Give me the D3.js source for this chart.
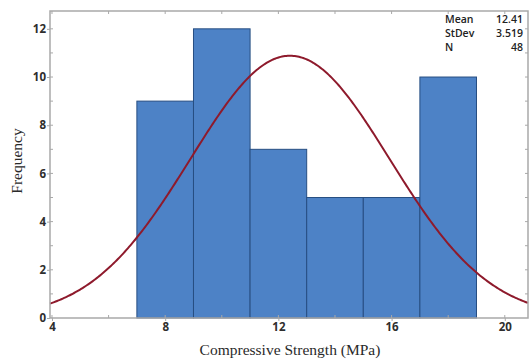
<!DOCTYPE html>
<html>
<head>
<meta charset="utf-8">
<script src="https://cdn.jsdelivr.net/npm/d3@7"></script>
<style>
  html, body { margin: 0; padding: 0; background: #fff; }
  svg { display: block; }
</style>
</head>
<body>
<svg id="chart" width="531" height="361"></svg>
<script>
// Histogram bins (lower edge, upper edge) and their counts
const binStarts = [7, 9, 11, 13, 15, 17];
const binEnds   = [9, 11, 13, 15, 17, 19];
const counts    = [9, 12, 7, 5, 5, 10];

// Fitted normal distribution
const statLabels = ["Mean", "StDev", "N"];
const statValues = ["12.41", "3.519", "48"];
const mean = 12.41, sd = 3.519, n = 48, binWidth = 2;

const xTicks = [4, 8, 12, 16, 20];
const yTicks = [0, 2, 4, 6, 8, 10, 12];

const svg = d3.select("#chart");
const plotLeft = 50, plotRight = 528, plotTop = 11, plotBottom = 318;

const x = d3.scaleLinear().domain([3.93, 20.82]).range([plotLeft, plotRight]);
const y = d3.scaleLinear().domain([0, 12.74]).range([plotBottom, plotTop]);

// Bars
svg.append("g").selectAll("rect")
  .data(counts)
  .join("rect")
  .attr("x", (d, i) => x(binStarts[i]))
  .attr("width", (d, i) => x(binEnds[i]) - x(binStarts[i]))
  .attr("y", d => y(d))
  .attr("height", d => y(0) - y(d))
  .attr("fill", "#4d82c6")
  .attr("stroke", "#274e82")
  .attr("stroke-width", 1);

// Normal curve scaled to counts
const pdf = v => n * binWidth * Math.exp(-0.5 * ((v - mean) / sd) ** 2) / (sd * Math.sqrt(2 * Math.PI));
const curveX = d3.range(3.93, 20.82, 0.05).concat([20.82]);
svg.append("path")
  .datum(curveX)
  .attr("fill", "none")
  .attr("stroke", "#8e1a2c")
  .attr("stroke-width", 2)
  .attr("d", d3.line().x(d => x(d)).y(d => y(pdf(d))));

// Frame
const frameColor = "#a9a9a9";
svg.append("rect")
  .attr("x", plotLeft).attr("y", plotTop)
  .attr("width", plotRight - plotLeft).attr("height", plotBottom - plotTop)
  .attr("fill", "none").attr("stroke", frameColor).attr("stroke-width", 1.5);

// Axes
const xAxis = d3.axisBottom(x).tickValues(xTicks).tickSize(3).tickPadding(2);
const gx = svg.append("g").attr("transform", `translate(0,${plotBottom})`).call(xAxis);
const yAxis = d3.axisLeft(y).tickValues(yTicks).tickSize(3).tickPadding(1);
const gy = svg.append("g").attr("transform", `translate(${plotLeft},0)`).call(yAxis);

[gx, gy].forEach(g => {
  g.select(".domain").remove();
  g.selectAll(".tick line").attr("stroke", frameColor);
  g.selectAll(".tick text")
    .attr("fill", "#2e2e2e")
    .style("font-family", "'Open Sans', sans-serif")
    .style("font-size", "11.5px")
    .style("font-weight", "bold");
});

// Minor ticks inside the frame
const minorX = d3.range(4, 21, 2);
svg.append("g").selectAll("line").data(minorX).join("line")
  .attr("x1", d => x(d)).attr("x2", d => x(d))
  .attr("y1", plotTop).attr("y2", plotTop + 3)
  .attr("stroke", frameColor);
svg.append("g").selectAll("line").data(minorX).join("line")
  .attr("x1", d => x(d)).attr("x2", d => x(d))
  .attr("y1", plotBottom).attr("y2", plotBottom - 3)
  .attr("stroke", frameColor);
const minorY = d3.range(1, 13, 1);
svg.append("g").selectAll("line").data(minorY).join("line")
  .attr("x1", plotLeft).attr("x2", plotLeft + 3)
  .attr("y1", d => y(d)).attr("y2", d => y(d))
  .attr("stroke", frameColor);
svg.append("g").selectAll("line").data(minorY).join("line")
  .attr("x1", plotRight).attr("x2", plotRight - 3)
  .attr("y1", d => y(d)).attr("y2", d => y(d))
  .attr("stroke", frameColor);

// Axis titles
svg.append("text")
  .attr("x", 290).attr("y", 355)
  .attr("text-anchor", "middle")
  .style("font-family", "'Liberation Serif', 'Times New Roman', serif")
  .style("font-size", "15.5px")
  .attr("fill", "#2a2a2a")
  .text("Compressive Strength (MPa)");

svg.append("text")
  .attr("transform", "translate(22,161) rotate(-90)")
  .attr("text-anchor", "middle")
  .style("font-family", "'Liberation Serif', 'Times New Roman', serif")
  .style("font-size", "15.5px")
  .attr("fill", "#2a2a2a")
  .text("Frequency");

// Statistics block
const stats = svg.append("g")
  .style("font-family", "'Open Sans', sans-serif")
  .style("font-size", "10.5px")
  .style("font-weight", "600")
  .attr("fill", "#222");
statLabels.forEach((label, i) => {
  stats.append("text").attr("x", 445).attr("y", 23 + i * 14).text(label);
  stats.append("text").attr("x", 523).attr("y", 23 + i * 14)
    .attr("text-anchor", "end").text(statValues[i]);
});
</script>
</body>
</html>
